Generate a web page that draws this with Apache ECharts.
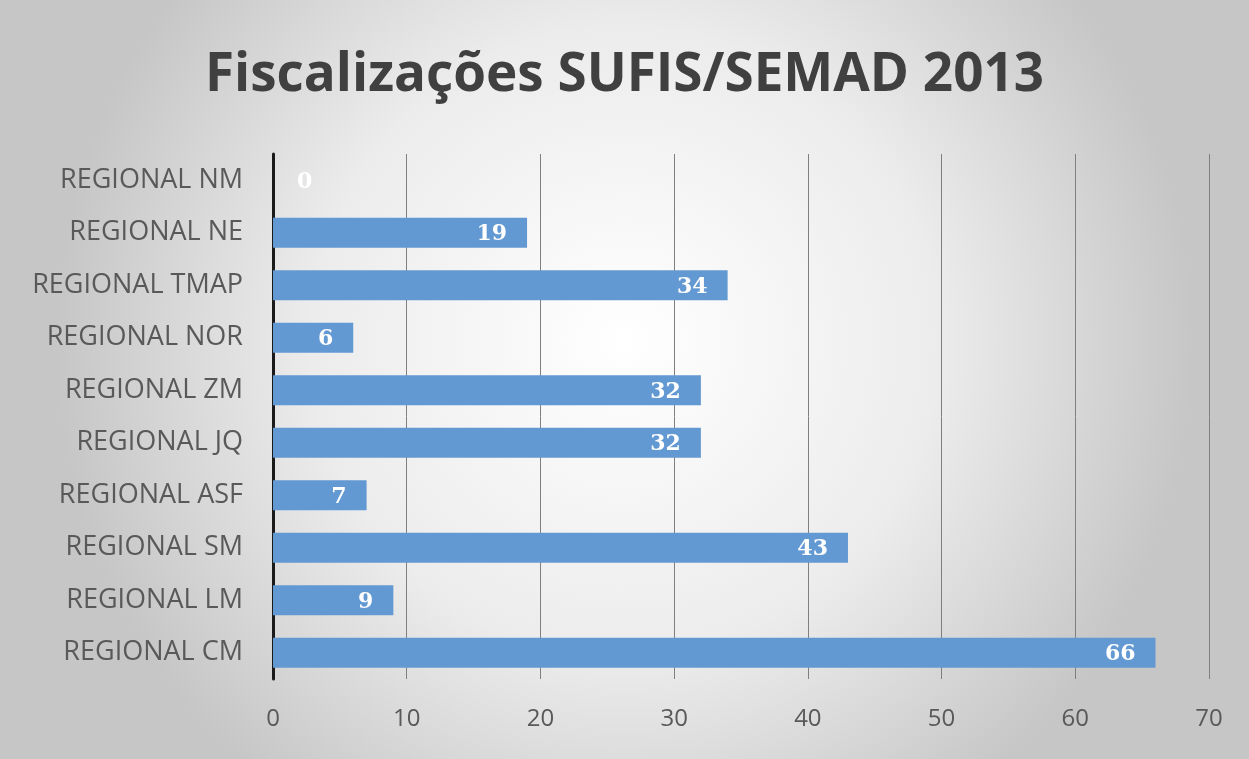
<!DOCTYPE html>
<html>
<head>
<meta charset="utf-8">
<script src="https://cdn.jsdelivr.net/npm/echarts@6/dist/echarts.min.js"></script>
<style>
  html, body { margin: 0; padding: 0; background: #fff; }
  #main { width: 1249px; height: 759px; }
</style>
</head>
<body>
<div id="main"></div>
<script>
// categories listed bottom -> top (as echarts draws category y axis)
var categories = ['REGIONAL CM', 'REGIONAL LM', 'REGIONAL SM', 'REGIONAL ASF', 'REGIONAL JQ',
  'REGIONAL ZM', 'REGIONAL NOR', 'REGIONAL TMAP', 'REGIONAL NE', 'REGIONAL NM'];
var values = [66, 9, 43, 7, 32, 32, 6, 34, 19, 0];
var xTicks = [0, 10, 20, 30, 40, 50, 60, 70];

var chart = echarts.init(document.getElementById('main'));

// empty bar: put its label just right of the axis
var barData = values.map(function (v) {
  return v === 0 ? { value: v, label: { position: 'right', distance: 24, offset: [0, 2] } } : v;
});

chart.setOption({
  backgroundColor: {
    type: 'radial', x: 0.5, y: 0.45, r: 0.75,
    colorStops: [
      { offset: 0, color: '#ffffff' },
      { offset: 0.55, color: '#ececec' },
      { offset: 1, color: '#c6c6c6' }
    ]
  },
  title: {
    text: 'Fiscalizações SUFIS/SEMAD 2013',
    left: 'center',
    top: 44,
    textStyle: {
      fontFamily: 'Open Sans',
      fontWeight: 'bold',
      fontSize: 53,
      color: '#404040'
    }
  },
  grid: { left: 273, right: 40, top: 154, bottom: 80 },
  xAxis: {
    type: 'value',
    min: xTicks[0],
    max: xTicks[xTicks.length - 1],
    interval: 10,
    axisLine: { show: false },
    axisTick: { show: false },
    axisLabel: { color: '#595959', fontSize: 24, fontFamily: 'Open Sans', margin: 28 },
    splitLine: { lineStyle: { color: '#7f7f7f', width: 1 } }
  },
  yAxis: {
    type: 'category',
    data: categories,
    axisLine: { lineStyle: { color: '#1a1a1a', width: 3 } },
    axisTick: { show: false },
    axisLabel: { color: '#595959', fontSize: 27, fontFamily: 'Open Sans', margin: 30 }
  },
  series: [{
    type: 'bar',
    data: barData,
    barCategoryGap: '43%',
    itemStyle: { color: '#6399d2' },
    label: {
      show: true,
      position: 'insideRight',
      color: '#ffffff',
      fontWeight: 'bold',
      fontFamily: 'DejaVu Serif',
      fontSize: 22,
      offset: [-15, 2]
    }
  }]
});
</script>
</body>
</html>
